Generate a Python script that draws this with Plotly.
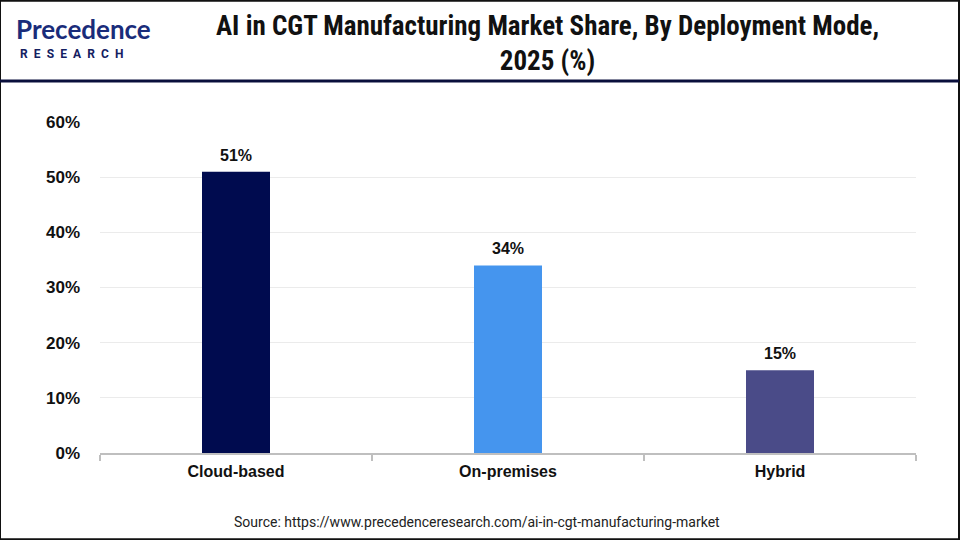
import plotly.graph_objects as go

categories = ["Cloud-based", "On-premises", "Hybrid"]
values = [51, 34, 15]
colors = ["#000B4F", "#4595EE", "#4A4B88"]
title_text = "AI in CGT Manufacturing Market Share, By Deployment Mode,<br>2025 (%)"
source_text = "Source: https://www.precedenceresearch.com/ai-in-cgt-manufacturing-market"

fig = go.Figure()
fig.add_trace(go.Bar(
    x=categories, y=values, width=0.25,
    marker=dict(color=colors, line=dict(width=0)),
    cliponaxis=False,
))
for c, v in zip(categories, values):
    fig.add_annotation(
        x=c, y=v, text=f"{v}%", showarrow=False, yanchor="bottom", yshift=6,
        font=dict(family="Arial, Liberation Sans", size=16, color="#111111", weight="bold"),
    )

fig.update_layout(
    width=960, height=540,
    margin=dict(l=100, r=44, t=122, b=87),
    paper_bgcolor="white", plot_bgcolor="white",
    showlegend=False,
    bargap=0.75,
    xaxis=dict(
        showline=True, linecolor="#BFBFBF", linewidth=2,
        ticks="outside", tickson="boundaries", ticklen=6, tickcolor="#BFBFBF", tickwidth=2,
        tickfont=dict(family="Arial, Liberation Sans", size=16, color="#111111", weight="bold"),
        ticklabelstandoff=3,
    ),
    yaxis=dict(
        range=[0, 60], dtick=10, ticksuffix="%",
        showgrid=True, gridcolor="#EBEBEB", gridwidth=1,
        zeroline=False, showline=False,
        tickfont=dict(family="Arial, Liberation Sans", size=17, color="#111111", weight="bold"),
        ticklabelstandoff=19,
    ),
    font=dict(family="Arial, Liberation Sans"),
)

fig.add_annotation(
    text=title_text, xref="paper", yref="paper", x=0.549, y=1, yshift=114,
    xanchor="center", yanchor="top", showarrow=False, align="center",
    font=dict(family="Roboto Condensed, Roboto", size=27, color="#111111", weight="bold"),
)
# Logo text
fig.add_annotation(
    text="Precedence", xref="paper", yref="paper", x=-0.104, y=1, yshift=76,
    xanchor="left", yanchor="bottom", showarrow=False, borderpad=0,
    font=dict(family="Lato, Roboto", size=26, color="#1A2C7A", weight="bold"),
)
fig.add_annotation(
    text="\u2002".join("RESEARCH"), xref="paper", yref="paper", x=-0.099, y=1, yshift=76,
    xanchor="left", yanchor="top", showarrow=False, borderpad=0,
    font=dict(family="Roboto", size=12, color="#142061", weight="bold"),
)
fig.add_annotation(
    text=source_text, xref="paper", yref="paper", x=0.462, y=0, yshift=-59,
    xanchor="center", yanchor="top", showarrow=False,
    font=dict(family="Roboto, Liberation Sans", size=14, color="#222222"),
)

# frame and header separator
fig.add_shape(type="rect", xref="paper", yref="paper", x0=-100/816, x1=1+43/816,
              y0=-86/330, y1=1+121/330, line=dict(color="#111111", width=2), layer="above")
fig.add_shape(type="line", xref="paper", yref="paper", x0=-100/816, x1=1+43/816,
              y0=1+(122-81)/330, y1=1+(122-81)/330, line=dict(color="#0A0F3C", width=3))

fig.write_html("out.html")
